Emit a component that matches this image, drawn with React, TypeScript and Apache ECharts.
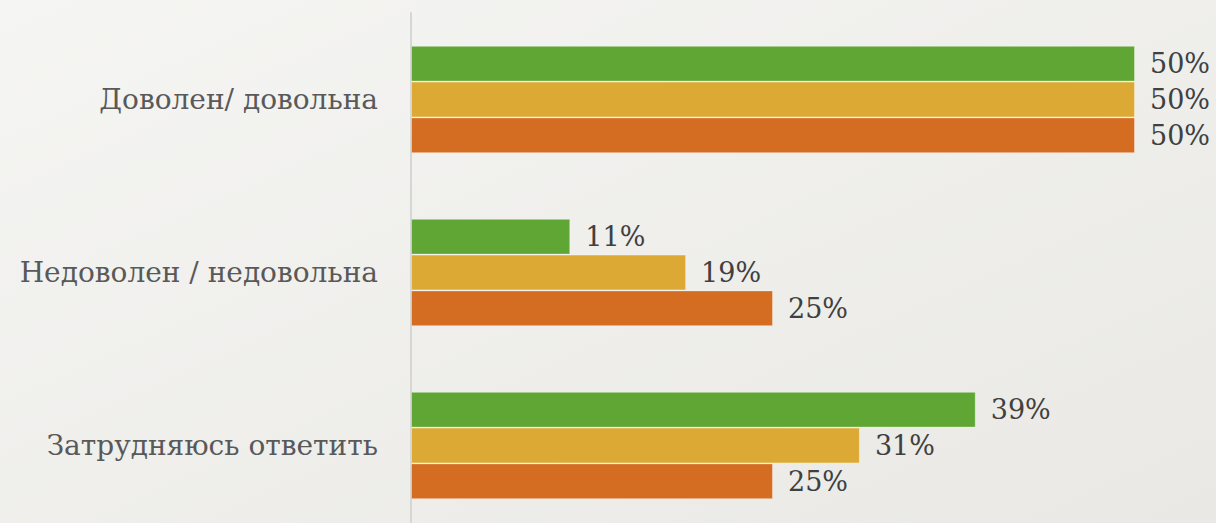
import React, { useEffect, useRef } from "react";
import * as echarts from "echarts";

const categories = ["Доволен/ довольна", "Недоволен / недовольна", "Затрудняюсь ответить"];
const seriesNames = ["Серия 1", "Серия 2", "Серия 3"];
const greenValues = [50, 11, 39];
const yellowValues = [50, 19, 31];
const orangeValues = [50, 25, 25];
const colors = ["#5fa634", "#dcaa34", "#d46c22"];

const FONT = "'DejaVu Serif', serif";

export default function App() {
  const ref = useRef<HTMLDivElement>(null);
  useEffect(() => {
    if (!ref.current) return;
    const chart = echarts.init(ref.current, null, { renderer: "svg" });
    const data = [greenValues, yellowValues, orangeValues];
    chart.setOption({
      animation: false,
      backgroundColor: {
        type: "linear",
        x: 0,
        y: 0,
        x2: 1,
        y2: 1,
        colorStops: [
          { offset: 0, color: "#f5f5f3" },
          { offset: 1, color: "#e9e8e4" },
        ],
      },
      grid: { left: 411, top: 13, width: 796.4, height: 519, containLabel: false },
      xAxis: {
        type: "value",
        min: 0,
        max: 55,
        show: false,
      },
      yAxis: {
        type: "category",
        inverse: true,
        data: categories,
        axisLine: { show: true, lineStyle: { color: "#d6d6d4", width: 2 } },
        axisTick: { show: false },
        axisLabel: {
          margin: 33,
          fontFamily: FONT,
          fontSize: 28,
          color: "#595959",
        },
      },
      series: data.map((vals, i) => ({
        name: seriesNames[i],
        type: "bar",
        data: vals,
        barCategoryGap: "38%",
        barGap: "0%",
        itemStyle: { color: colors[i], borderColor: "rgba(255,255,255,0.35)", borderWidth: 1 },
        label: {
          show: true,
          position: "right",
          distance: 15,
          formatter: "{c}%",
          fontFamily: FONT,
          fontSize: 27,
          color: "#404040",
        },
      })),
    });
    return () => chart.dispose();
  }, []);
  return (
    <div style={{ position: "fixed", left: 0, top: 0, width: 1216, height: 523, overflow: "hidden" }}>
      <div ref={ref} style={{ position: "absolute", left: 0, top: 0, width: 1216, height: 545 }} />
    </div>
  );
}
